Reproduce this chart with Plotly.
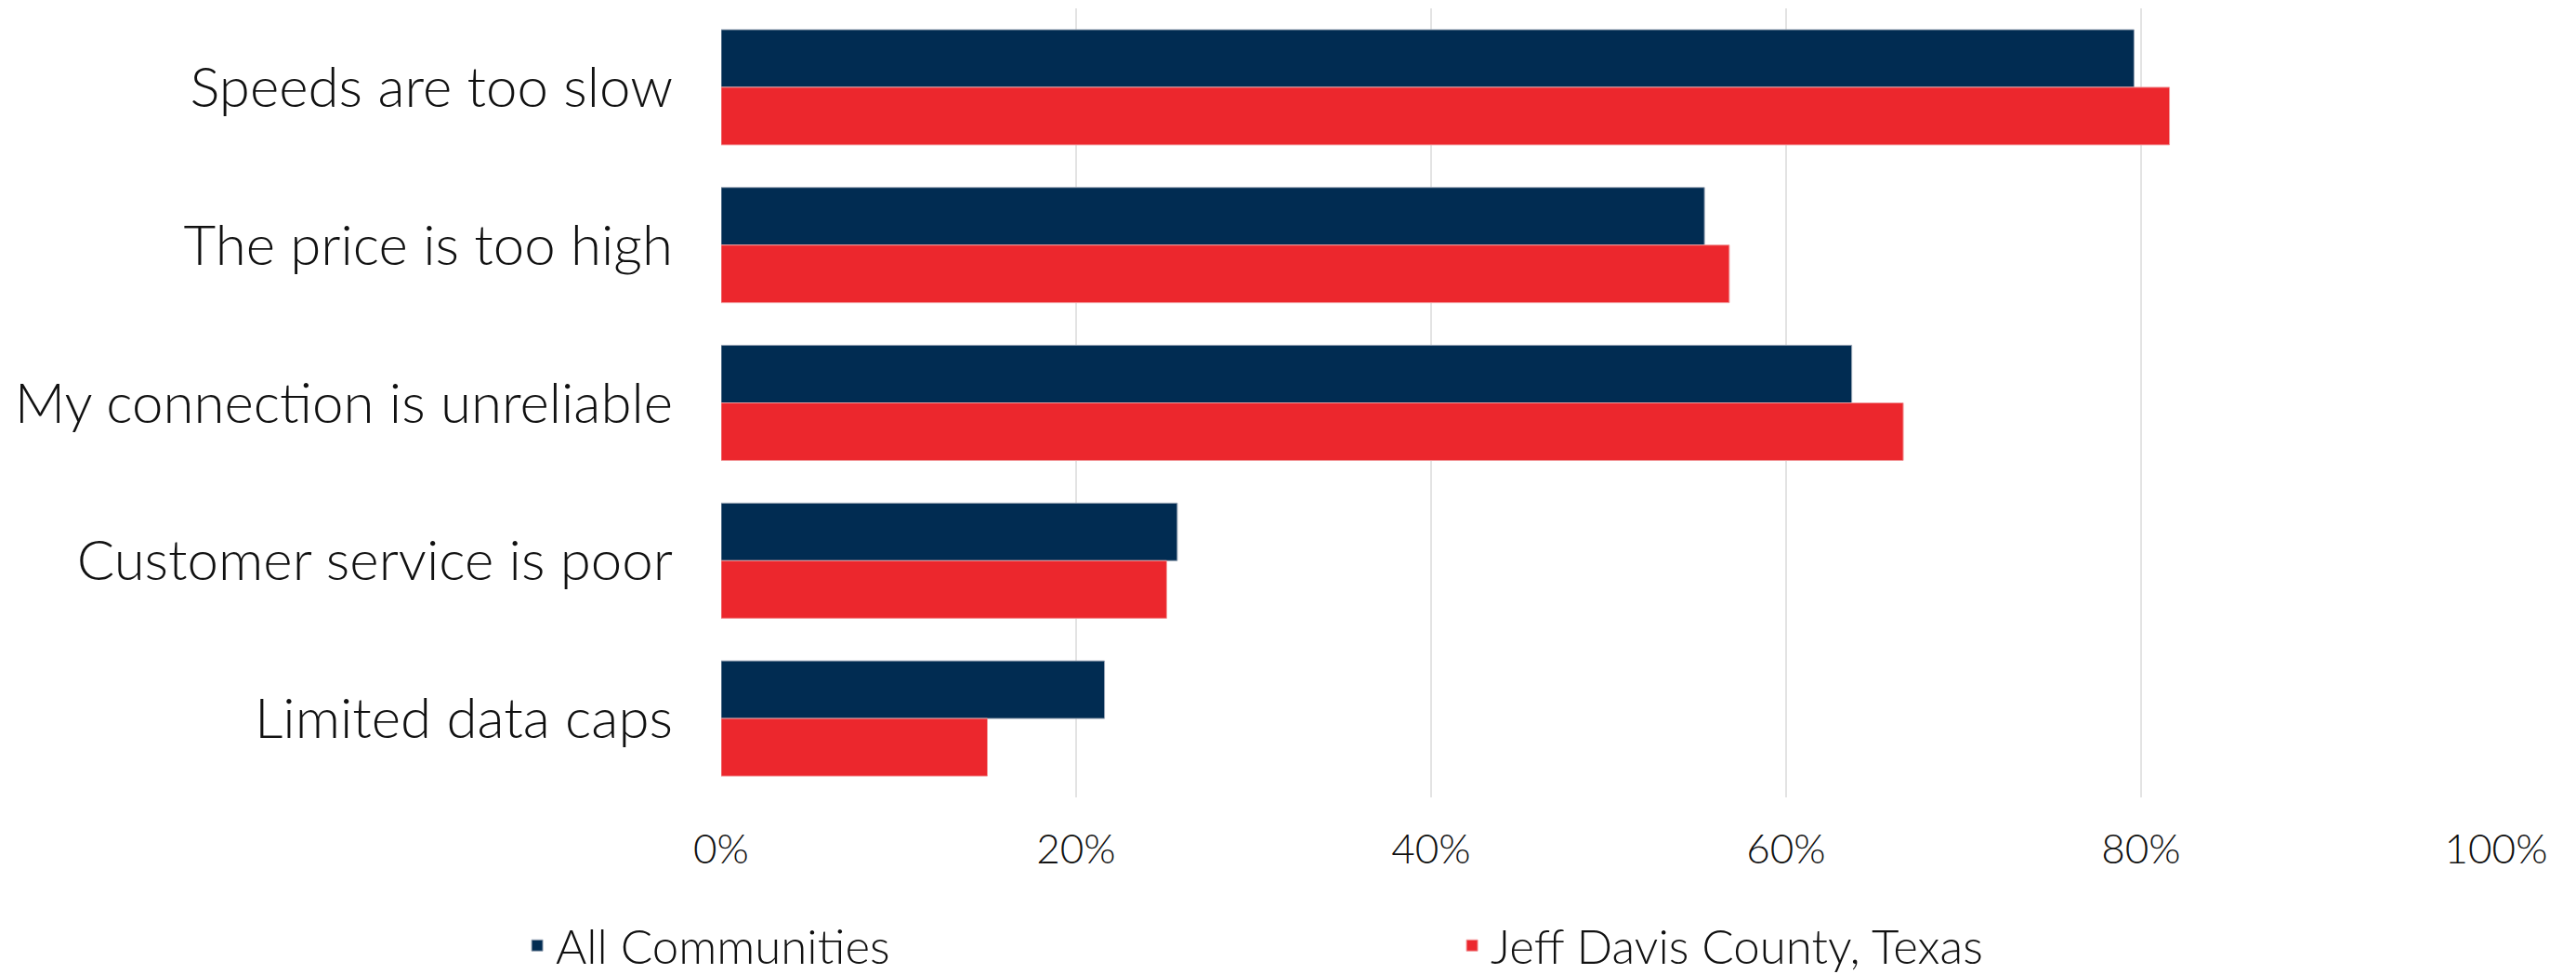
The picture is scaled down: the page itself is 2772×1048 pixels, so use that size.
import plotly.graph_objects as go

categories = [
    "Speeds are too slow",
    "The price is too high",
    "My connection is unreliable",
    "Customer service is poor",
    "Limited data caps",
]
all_communities = [79.6, 55.4, 63.7, 25.7, 21.6]
jeff_davis = [81.6, 56.8, 66.6, 25.1, 15.0]
series_names = ["All Communities", "Jeff Davis County, Texas"]
tick_vals = [0, 20, 40, 60, 80, 100]
tick_text = ["0%", "20%", "40%", "60%", "80%", "100%"]

FONT = "Lato"
DARK = "#012C52"
RED = "#EC272D"

fig = go.Figure()
fig.add_trace(go.Bar(
    y=categories, x=all_communities, orientation="h", name=series_names[0],
    marker=dict(color=DARK, line=dict(color="#9AA6B6", width=1)),
))
fig.add_trace(go.Bar(
    y=categories, x=jeff_davis, orientation="h", name=series_names[1],
    marker=dict(color=RED, line=dict(color="#F29A9C", width=1)),
))

fig.update_layout(
    width=2772, height=1048,
    paper_bgcolor="white", plot_bgcolor="white",
    margin=dict(l=768, r=94, t=1, b=198, autoexpand=False),
    barmode="group", bargap=0.27, bargroupgap=0,
    font=dict(family=FONT, size=44, color="#111111", weight=300),
    legend=dict(
        orientation="h", xref="paper", yref="paper",
        x=-0.1141, xanchor="left", y=-0.188, yanchor="middle",
        font=dict(family=FONT, size=51, color="#111111", weight=300),
        entrywidth=961, entrywidthmode="pixels",
        bgcolor="rgba(0,0,0,0)",
    ),
    xaxis=dict(
        range=[0, 100], tickvals=tick_vals, ticktext=tick_text,
        showgrid=True, gridcolor="#E3E3E3", gridwidth=2,
        zeroline=False, showline=False, ticks="",
        tickfont=dict(family=FONT, size=44, color="#111111", weight=300),
        ticklabelstandoff=26, automargin=False,
    ),
    yaxis=dict(
        categoryorder="array", categoryarray=categories, autorange="reversed",
        showgrid=False, zeroline=False, showline=False, ticks="",
        tickfont=dict(family=FONT, size=60, color="#111111", weight=300),
        ticklabelstandoff=51, automargin=False,
    ),
)

fig.write_html("out.html")
